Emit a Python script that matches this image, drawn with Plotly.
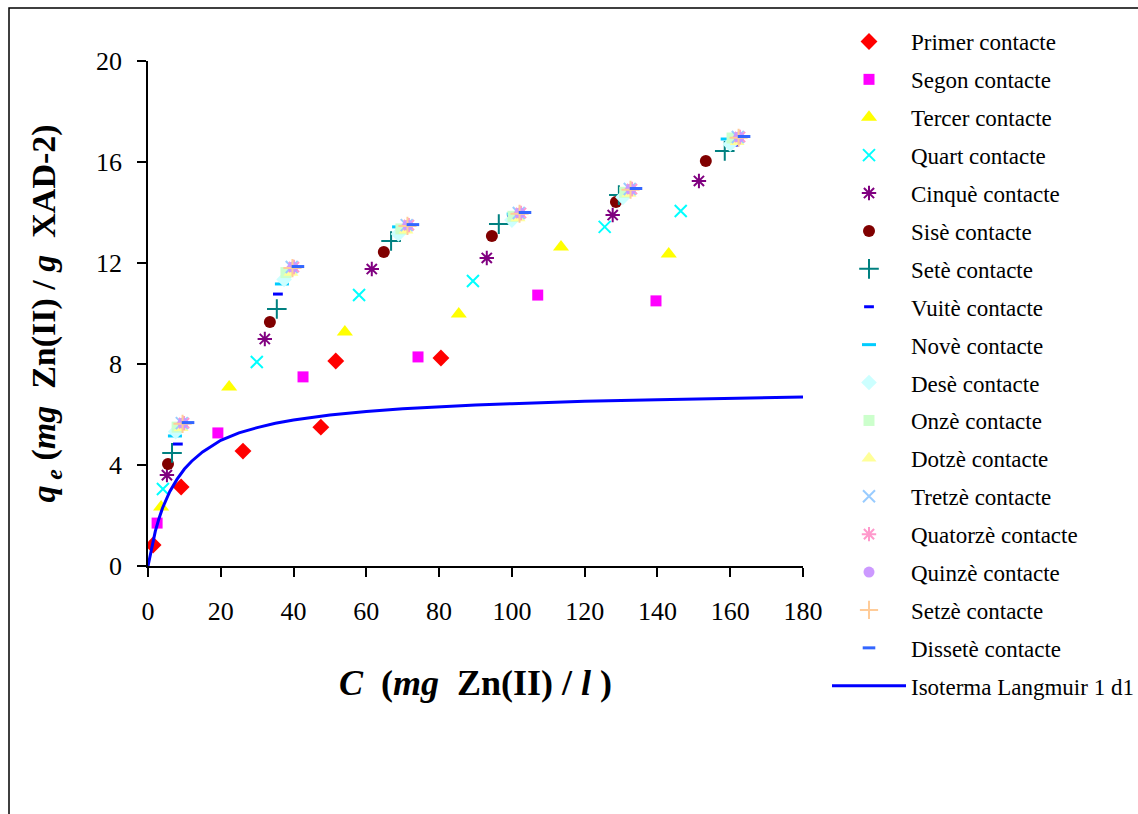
import plotly.graph_objects as go

# ---------------- data ----------------
names = ["Primer contacte", "Segon contacte", "Tercer contacte", "Quart contacte",
         "Cinquè contacte", "Sisè contacte", "Setè contacte", "Vuitè contacte",
         "Novè contacte", "Desè contacte", "Onzè contacte", "Dotzè contacte",
         "Tretzè contacte", "Quatorzè contacte", "Quinzè contacte", "Setzè contacte",
         "Dissetè contacte"]

primer_x = [1.4, 9.1, 26.1, 47.5, 51.6, 80.5]
primer_y = [0.83, 3.13, 4.55, 5.50, 8.12, 8.24]
segon_x = [2.5, 19.2, 42.6, 74.2, 107.1, 139.6]
segon_y = [1.70, 5.27, 7.49, 8.28, 10.73, 10.50]
tercer_x = [3.6, 22.3, 54.1, 85.4, 113.5, 143.1]
tercer_y = [2.34, 7.09, 9.27, 9.98, 12.63, 12.36]
quart_x = [4.1, 29.9, 58.0, 89.3, 125.5, 146.4]
quart_y = [3.05, 8.08, 10.73, 11.29, 13.43, 14.06]
cinque_x = [5.2, 32.1, 61.5, 93.1, 127.7, 151.4]
cinque_y = [3.60, 8.99, 11.76, 12.20, 13.90, 15.25]
sise_x = [5.5, 33.5, 64.8, 94.5, 128.6, 153.3]
sise_y = [4.04, 9.66, 12.44, 13.07, 14.42, 16.04]
sete_x = [6.6, 35.4, 66.8, 96.4, 129.4, 158.5]
sete_y = [4.48, 10.18, 12.87, 13.54, 14.69, 16.44]
vuite_x = [8.2, 35.7, 69.2, 100.0, 131.0, 161.0]
vuite_y = [4.83, 10.77, 13.19, 13.85, 14.80, 16.67]
nove_x = [7.4, 36.8, 69.0, 100.5, 131.8, 159.3]
nove_y = [5.15, 11.17, 13.43, 13.94, 14.90, 16.91]
dese_x = [7.6, 37.4, 68.8, 100.0, 130.5, 160.0]
dese_y = [5.32, 11.35, 13.15, 13.70, 14.60, 16.70]
onze_x = [8.0, 37.9, 69.5, 100.3, 131.0, 160.5]
onze_y = [5.50, 11.62, 13.35, 13.85, 14.80, 16.95]
dotze_x = [9.1, 39.3, 70.9, 101.7, 132.2, 161.9]
dotze_y = [5.48, 11.62, 13.30, 13.78, 14.75, 16.80]
tretze_x = [9.3, 39.5, 71.1, 101.9, 132.4, 162.1]
tretze_y = [5.66, 11.84, 13.50, 13.98, 14.93, 16.99]
quatorze_x = [9.9, 40.1, 71.7, 102.5, 133.0, 162.7]
quatorze_y = [5.66, 11.84, 13.50, 13.98, 14.93, 16.99]
quinze_x = [9.6, 39.8, 71.4, 102.2, 132.7, 162.4]
quinze_y = [5.66, 11.84, 13.50, 13.98, 14.93, 16.99]
setze_x = [9.5, 39.7, 71.3, 102.1, 132.6, 162.3]
setze_y = [5.63, 11.80, 13.47, 13.95, 14.90, 16.96]
dissete_x = [11.0, 41.2, 72.8, 103.6, 134.1, 163.8]
dissete_y = [5.68, 11.86, 13.52, 14.00, 14.95, 17.01]

langmuir_c = [0, 1, 2, 3, 4, 6, 8, 10, 12, 15, 20, 25, 30, 35, 40, 50, 60,
              70, 80, 90, 100, 120, 140, 160, 180]
langmuir_q = [0, 0.76, 1.37, 1.87, 2.30, 2.95, 3.44, 3.84, 4.15, 4.52, 4.98,
              5.27, 5.48, 5.65, 5.78, 5.98, 6.12, 6.23, 6.31, 6.38, 6.43, 6.52,
              6.58, 6.63, 6.69]

x_ticks = [0, 20, 40, 60, 80, 100, 120, 140, 160, 180]
y_ticks = [0, 4, 8, 12, 16, 20]

# ---------------- styles ----------------
series_x = [primer_x, segon_x, tercer_x, quart_x, cinque_x, sise_x, sete_x, vuite_x,
            nove_x, dese_x, onze_x, dotze_x, tretze_x, quatorze_x, quinze_x,
            setze_x, dissete_x]
series_y = [primer_y, segon_y, tercer_y, quart_y, cinque_y, sise_y, sete_y, vuite_y,
            nove_y, dese_y, onze_y, dotze_y, tretze_y, quatorze_y, quinze_y,
            setze_y, dissete_y]
# (symbol, color, size, line width)
styles = [
    ("diamond", "#FF0000", 13, 0),
    ("square", "#FF00FF", 11, 0),
    ("triangle-up", "#FFFF00", 14, 0),
    ("x-thin-open", "#00FFFF", 12, 2),
    ("asterisk-open", "#800080", 12, 2),
    ("circle", "#800000", 12, 0),
    ("cross-thin-open", "#008080", 14, 2),
    ("line-ew-open", "#0000FF", 7, 3),
    ("line-ew-open", "#00CCFF", 10, 3),
    ("diamond", "#CCFFFF", 12, 0),
    ("square", "#CCFFCC", 11, 0),
    ("triangle-up", "#FFFF99", 13, 0),
    ("x-thin-open", "#99CCFF", 12, 2),
    ("asterisk-open", "#FF99CC", 12, 2),
    ("circle", "#CC99FF", 11, 0),
    ("cross-thin-open", "#FFCC99", 13, 2),
    ("line-ew-open", "#3366FF", 9, 3),
]

FONT = "Times New Roman, Liberation Serif, serif"

fig = go.Figure()
for i, name in enumerate(names):
    sym, col, sz, lw = styles[i]
    if sym.endswith("open"):
        marker = dict(symbol=sym, size=sz, color=col, line=dict(color=col, width=lw))
    else:
        marker = dict(symbol=sym, size=sz, color=col, line=dict(width=0))
    fig.add_trace(go.Scatter(x=series_x[i], y=series_y[i], mode="markers", name=name,
                             marker=marker, legendgroup=f"g{i}"))

fig.add_trace(go.Scatter(x=langmuir_c, y=langmuir_q, mode="lines",
                         name="Isoterma Langmuir 1 d1",
                         line=dict(color="#0000FF", width=3), legendgroup="glang"))

# page layout (pixels): plot area x 148..803, y 61..566
FIG_W, FIG_H = 1138, 814
L, R, T, B = 148, FIG_W - 803, 8, 8
W = 803 - 148
HP = FIG_H - T - B


def px(xp):
    return (xp - L) / W


def py(yp):
    return (FIG_H - B - yp) / HP


fig.update_layout(
    width=FIG_W, height=FIG_H,
    margin=dict(l=L, r=R, t=T, b=B, autoexpand=False),
    paper_bgcolor="white", plot_bgcolor="white",
    font=dict(family=FONT, color="black"),
    showlegend=True,
    legend=dict(x=px(827), y=py(20), xanchor="left", yanchor="top",
                font=dict(family=FONT, size=23, color="black"),
                traceorder="grouped", tracegroupgap=5, itemwidth=74,
                bgcolor="rgba(0,0,0,0)"),
    xaxis=dict(range=[0, 180], tickvals=x_ticks, ticktext=[str(v) for v in x_ticks],
               showgrid=False, zeroline=False, showline=True, linecolor="black",
               linewidth=1.5, ticks="outside", ticklen=9, tickwidth=1.5,
               tickcolor="black", tickfont=dict(family=FONT, size=26),
               ticklabelstandoff=12, anchor="y",
               title=dict(text="<b><i>C</i>  (<i>mg</i>  Zn(II) / <i>l</i> )</b>",
                          font=dict(family=FONT, size=36), standoff=45)),
    yaxis=dict(range=[0, 20], tickvals=y_ticks, ticktext=[str(v) for v in y_ticks],
               domain=[py(566), py(61)],
               showgrid=False, zeroline=False, showline=True, linecolor="black",
               linewidth=1.5, ticks="outside", ticklen=9, tickwidth=1.5,
               tickcolor="black", tickfont=dict(family=FONT, size=26),
               ticklabelstandoff=10,
               title=dict(text="<b><i>q</i><sub><i> e</i></sub> (<i>mg</i>  Zn(II) / <i>g</i>  XAD-2)</b>",
                          font=dict(family=FONT, size=34), standoff=30)),
    shapes=[dict(type="rect", xref="paper", yref="paper",
                 x0=px(9), x1=px(1150), y0=py(830), y1=py(8),
                 line=dict(color="black", width=1.5), fillcolor="rgba(0,0,0,0)",
                 layer="below")],
)

fig.write_html("out.html")
